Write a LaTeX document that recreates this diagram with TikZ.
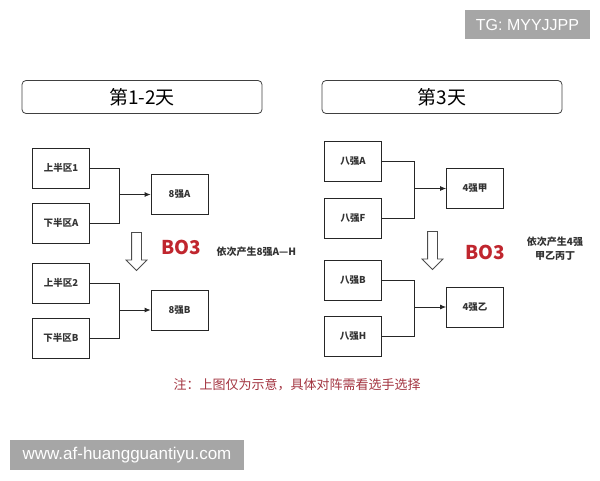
\documentclass[tikz,border=0pt]{standalone}
\usepackage{fontspec}
\setmainfont{Liberation Sans}
\newfontfamily\cjk{Noto Sans CJK SC}
\usepackage{tikz}
\usetikzlibrary{arrows.meta, shapes.arrows, positioning, calc}
\definecolor{markgray}{HTML}{A6A6A6}
\definecolor{bored}{HTML}{C0262E}
\definecolor{notered}{HTML}{A33440}

\begin{document}
\begin{tikzpicture}[
  x=1pt, y=-1pt,
  font=\cjk,
  >={Latex[length=6pt,width=5pt]},
  day/.style={rectangle, rounded corners=4pt, draw=black!75, line width=0.8pt, minimum width=240pt, minimum height=33pt, font=\cjk\fontsize{19}{20}\selectfont},
  team/.style={rectangle, draw=black!85, line width=0.8pt, minimum width=57pt, minimum height=40pt, inner sep=0pt, text=black!80, font=\cjk\bfseries\fontsize{9.5}{11}\selectfont},
  down/.style={single arrow, draw=black!70, line width=0.8pt, shape border rotate=270, minimum height=38pt, single arrow head extend=5.5pt, inner sep=4.5pt},
  bo/.style={text=bored, font=\cjk\bfseries\fontsize{19}{20}\selectfont},
  side/.style={align=center, text=black!80, font=\cjk\bfseries\fontsize{10}{14}\selectfont},
  wmark/.style={fill=markgray, text=white, inner sep=0pt, font=\fontsize{16}{18}\selectfont},
  a/.style={->, line width=0.8pt, black!85},
  l/.style={line width=0.8pt, black!85},
]
\useasboundingbox (0,0) rectangle (600,480);
\node[wmark, minimum width=125pt, minimum height=29pt] (tg) at (527.5,24.5) {TG: MYYJJPP};
\node[day] (day1) at (142,97) {第1-2天};
\node[day] (day3) at (442,97) {第3天};
% day 1-2
\node[team] (t1) at (61,168) {上半区1};
\node[team] (t2) at (61,223) {下半区A};
\node[team] (t3) at (61,283) {上半区2};
\node[team] (t4) at (61,338) {下半区B};
\node[team] (w1) at (179.5,194.5) {8强A};
\node[team] (w2) at (179.5,310) {8强B};
\node[down] (d1) at (136.5,249) {};
\node[bo] (bo1) at (181,247) {BO3};
\node[side, anchor=west] (s1) at (213,252) {依次产生8强A—H};
% day 3
\node[team] (r1) at (353,161.5) {八强A};
\node[team] (r2) at (353,218) {八强F};
\node[team] (r3) at (353,280) {八强B};
\node[team] (r4) at (353,336.5) {八强H};
\node[team] (q1) at (475,188.5) {4强甲};
\node[team] (q2) at (475,307) {4强乙};
\node[down] (d2) at (432.5,248) {};
\node[bo] (bo3) at (485,252) {BO3};
\node[side] (s3) at (555,249) {依次产生4强\\甲乙丙丁};
\node[text=notered, font=\cjk\fontsize{13}{14}\selectfont] (note) at (297,385) {注：上图仅为示意，具体对阵需看选手选择};
\node[wmark, minimum width=234pt, minimum height=30pt, font=\fontsize{17}{19}\selectfont] (url) at (127,455) {www.af-huangguantiyu.com};
% brackets
\coordinate (jA) at ([xshift=-31pt]w1.west);
\coordinate (jB) at ([xshift=-31pt]w2.west);
\coordinate (jC) at ([xshift=-32pt]q1.west);
\coordinate (jD) at ([xshift=-32pt]q2.west);
\draw[l] (t1.east) -| (jA);
\draw[l] (t2.east) -| (jA);
\draw[a] (jA) -- (w1.west);
\draw[l] (t3.east) -| (jB);
\draw[l] (t4.east) -| (jB);
\draw[a] (jB) -- (w2.west);
\draw[l] (r1.east) -| (jC);
\draw[l] (r2.east) -| (jC);
\draw[a] (jC) -- (q1.west);
\draw[l] (r3.east) -| (jD);
\draw[l] (r4.east) -| (jD);
\draw[a] (jD) -- (q2.west);
\end{tikzpicture}
\end{document}
